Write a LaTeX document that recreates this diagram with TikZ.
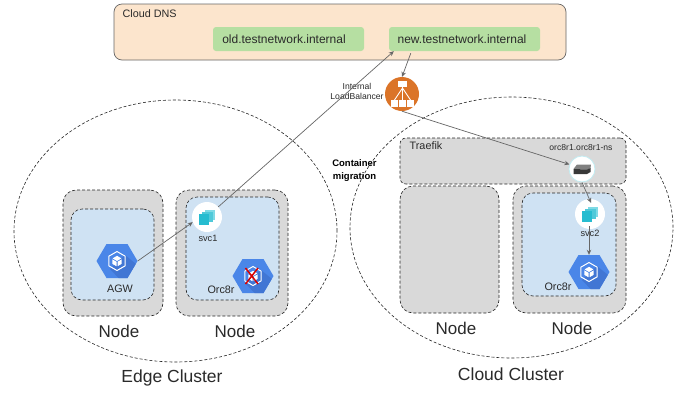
\documentclass[tikz,border=0pt]{standalone}
\usepackage{fontspec}
\setmainfont{Liberation Sans}
\usetikzlibrary{shapes.geometric,arrows.meta}
\definecolor{grayfill}{HTML}{D9D9D9}
\definecolor{bluefill}{HTML}{CFE2F3}
\definecolor{dnsfill}{HTML}{FCE5CD}
\definecolor{greenfill}{HTML}{B6DFA2}
\definecolor{hexblue}{HTML}{4A86E8}
\definecolor{hexdark}{HTML}{4176D4}
\definecolor{teal1}{HTML}{26BCD0}
\definecolor{teal2}{HTML}{4FC9D9}
\definecolor{teal3}{HTML}{7FDAE5}
\definecolor{lborange}{HTML}{DB7428}
\definecolor{ink}{HTML}{2A2A2A}
\definecolor{wire}{HTML}{666666}
\tikzset{
  dashline/.style={draw=black!85,line width=0.6pt,dash pattern=on 3pt off 2pt},
  clusterbox/.style={shape=ellipse,dashline,inner sep=0pt},
  nodebox/.style={shape=rectangle,rounded corners=13pt,dashline,fill=grayfill,inner sep=0pt},
  podbox/.style={shape=rectangle,rounded corners=11pt,dashline,fill=bluefill,inner sep=0pt},
  traefikbox/.style={shape=rectangle,rounded corners=6pt,dashline,fill=grayfill,inner sep=0pt},
  dnsbox/.style={shape=rectangle,rounded corners=8pt,draw=black!60,line width=0.7pt,fill=dnsfill,inner sep=0pt},
  hostbox/.style={shape=rectangle,rounded corners=3pt,fill=greenfill,inner sep=0pt},
  hosttext/.style={text=ink,inner sep=0pt,font=\fontsize{12}{14}\selectfont},
  svcnode/.style={shape=circle,fill=white,minimum size=30pt,inner sep=0pt},
  ingnode/.style={shape=circle,fill=white,draw=teal2!35,line width=0.8pt,minimum size=26pt,inner sep=0pt},
  lbnode/.style={shape=circle,fill=lborange,minimum size=34pt,inner sep=0pt},
  hexnode/.style={shape=rectangle,minimum width=41pt,minimum height=34pt,inner sep=0pt},
  biglabel/.style={text=ink,inner sep=0pt,font=\fontsize{17}{20}\selectfont},
  clusterlabel/.style={text=ink,inner sep=0pt,font=\fontsize{17.5}{20}\selectfont},
  midlabel/.style={text=ink,inner sep=0pt,font=\fontsize{10.8}{12}\selectfont},
  smalllabel/.style={text=ink,inner sep=0pt,font=\fontsize{9.2}{11}\selectfont},
  tinylabel/.style={text=ink,inner sep=0pt,align=center,font=\fontsize{8.6}{10}\selectfont},
  boldlabel/.style={text=black,inner sep=0pt,align=center,font=\fontsize{9.5}{12.5}\selectfont\bfseries},
  wirearrow/.style={draw=wire,line width=0.7pt,-{Stealth[length=5pt,width=4.5pt]}},
}
% name, style, x1, y1, x2, y2
\newcommand{\bx}[6]{%
  \pgfmathsetmacro{\bxcx}{(#3+#5)/2}\pgfmathsetmacro{\bxcy}{(#4+#6)/2}%
  \pgfmathsetmacro{\bxw}{#5-#3}\pgfmathsetmacro{\bxh}{#6-#4}%
  \node[#2,minimum width=\bxw pt,minimum height=\bxh pt] (#1) at (\bxcx,\bxcy) {};}
% hexagon icon: name, x, y
\newcommand{\hexicon}[3]{%
  \node[hexnode] (#1) at (#2,#3) {};
  \begin{scope}[shift={(#2,#3)}]
    \fill[hexblue] (-20.5,0)--(-10.5,-17)--(10.5,-17)--(20.5,0)--(10.5,17)--(-10.5,17)--cycle;
    \begin{scope}
      \clip (-20.5,0)--(-10.5,-17)--(10.5,-17)--(20.5,0)--(10.5,17)--(-10.5,17)--cycle;
      \fill[hexdark] (8,-6)--(30,12)--(14,30)--(-7,8)--cycle;
    \end{scope}
    \draw[white,line width=1pt] (0,-9.5)--(8.2,-4.8)--(8.2,4.8)--(0,9.5)--(-8.2,4.8)--(-8.2,-4.8)--cycle;
    \fill[white] (0,-5.2)--(4.4,-2.6)--(0,0)--(-4.4,-2.6)--cycle;
    \fill[white] (-4.6,-1.6)--(-0.5,0.8)--(-0.5,5.2)--(-4.6,2.9)--cycle;
    \fill[white] (4.6,-1.6)--(0.5,0.8)--(0.5,5.2)--(4.6,2.9)--cycle;
  \end{scope}}
% stacked squares icon
\newcommand{\stackicon}[2]{%
  \begin{scope}[shift={(#1,#2)}]
    \fill[teal3] (-2,-7.5) rectangle (8,3);
    \fill[teal2] (-5,-5.5) rectangle (5.5,5);
    \fill[teal1] (-8.5,-3) rectangle (2,7.5);
  \end{scope}}
\begin{document}
\begin{tikzpicture}[x=1pt,y=-1pt]
\useasboundingbox (0,0) rectangle (686,392);
\fill[white] (0,0) rectangle (686,392);
% Cloud DNS
\bx{dns}{dnsbox}{114}{4}{566}{60}
\node[midlabel,anchor=west] (dnslabel) at (122.5,14) {Cloud DNS};
\bx{oldhost}{hostbox}{213}{27}{364}{51}
\bx{newhost}{hostbox}{389}{27}{540}{51}
\node[hosttext] (oldtext) at (284,39) {old.testnetwork.internal};
\node[hosttext] (newtext) at (462,39) {new.testnetwork.internal};
% Clusters
\bx{edge}{clusterbox}{14}{100}{337}{362}
\bx{cloud}{clusterbox}{350}{97}{673}{358}
% Edge nodes
\bx{en1}{nodebox}{63}{190}{163}{316}
\bx{ep1}{podbox}{71}{209}{154}{300}
\bx{en2}{nodebox}{176}{190}{288}{316}
\bx{ep2}{podbox}{186}{197}{279}{300}
% Cloud nodes
\bx{traefik}{traefikbox}{400}{138}{626}{184}
\bx{cn1}{nodebox}{400}{186}{499}{313}
\bx{cn2}{nodebox}{513}{186}{626}{313}
\bx{cp2}{podbox}{522}{193}{616}{296}
% Load balancer
\node[lbnode] (lb) at (402,94) {};
\draw[white,line width=0.9pt] (402.5,85)--(402.5,100) (402.5,88)--(394.5,100) (402.5,88)--(410.5,100);
\fill[white] (398,80.5) rectangle (407,86.5);
\fill[white] (391,99.5) rectangle (398,106.5);
\fill[white] (399,99.5) rectangle (406,106.5);
\fill[white] (407,99.5) rectangle (414,106.5);
% Icons
\hexicon{agw}{117}{261}
\hexicon{orcedge}{253}{276}
\hexicon{orccloud}{589}{272}
\node[svcnode] (svc1) at (207,217) {};
\stackicon{207}{217}
\node[svcnode] (svc2) at (590,214) {};
\stackicon{590}{214}
\node[ingnode] (ing) at (582,169) {};
\fill[black!50] (573.5,169)--(577,164.5)--(591,164.5)--(590.5,168)--(587,169.5)--cycle;
\fill[black!78] (573.5,169)--(587,169.5)--(590.5,168)--(590.5,172)--(587,174)--(573.5,174)--cycle;
% red cross
\draw[red!85!black,line width=1.5pt] (245.5,268)--(258,284) (258,268)--(245.5,284);
% Labels
\node[smalllabel] (svc1l) at (208,238) {svc1};
\node[midlabel] (agwl) at (120,289) {AGW};
\node[midlabel] (orcel) at (221,290) {Orc8r};
\node[smalllabel] (svc2l) at (590,233.5) {svc2};
\node[midlabel] (orccl) at (558,287) {Orc8r};
\node[midlabel] (trl) at (426,146) {Traefik};
\node[tinylabel] (ingl) at (581,148) {orc8r1.orc8r1-ns};
\node[tinylabel] (lbl) at (357,91) {Internal\\LoadBalancer};
\node[boldlabel] (migl) at (354.5,170.5) {Container\\migration};
\node[biglabel] (n1) at (119,331) {Node};
\node[biglabel] (n2) at (235,331) {Node};
\node[biglabel] (n3) at (456,328) {Node};
\node[biglabel] (n4) at (572,328) {Node};
\node[clusterlabel] (ecl) at (172,378) {Edge Cluster};
\node[clusterlabel] (ccl) at (511,374) {Cloud Cluster};
% Connectors
\draw[wirearrow] (agw.east) -- (svc1.200);
\draw[wirearrow] (svc1.42) -- ([xshift=5pt]newhost.south west);
\draw[wirearrow] ([xshift=22pt,yshift=-2pt]newhost.south west) -- (lb.north);
\draw[wirearrow] (lb.south) -- (ing.160);
\draw[wirearrow] (ing.south) -- ([xshift=1pt,yshift=-4pt]svc2.north);
\draw[wirearrow] ([xshift=-1pt,yshift=3pt]svc2.south) -- (orccloud.north);
\end{tikzpicture}
\end{document}
